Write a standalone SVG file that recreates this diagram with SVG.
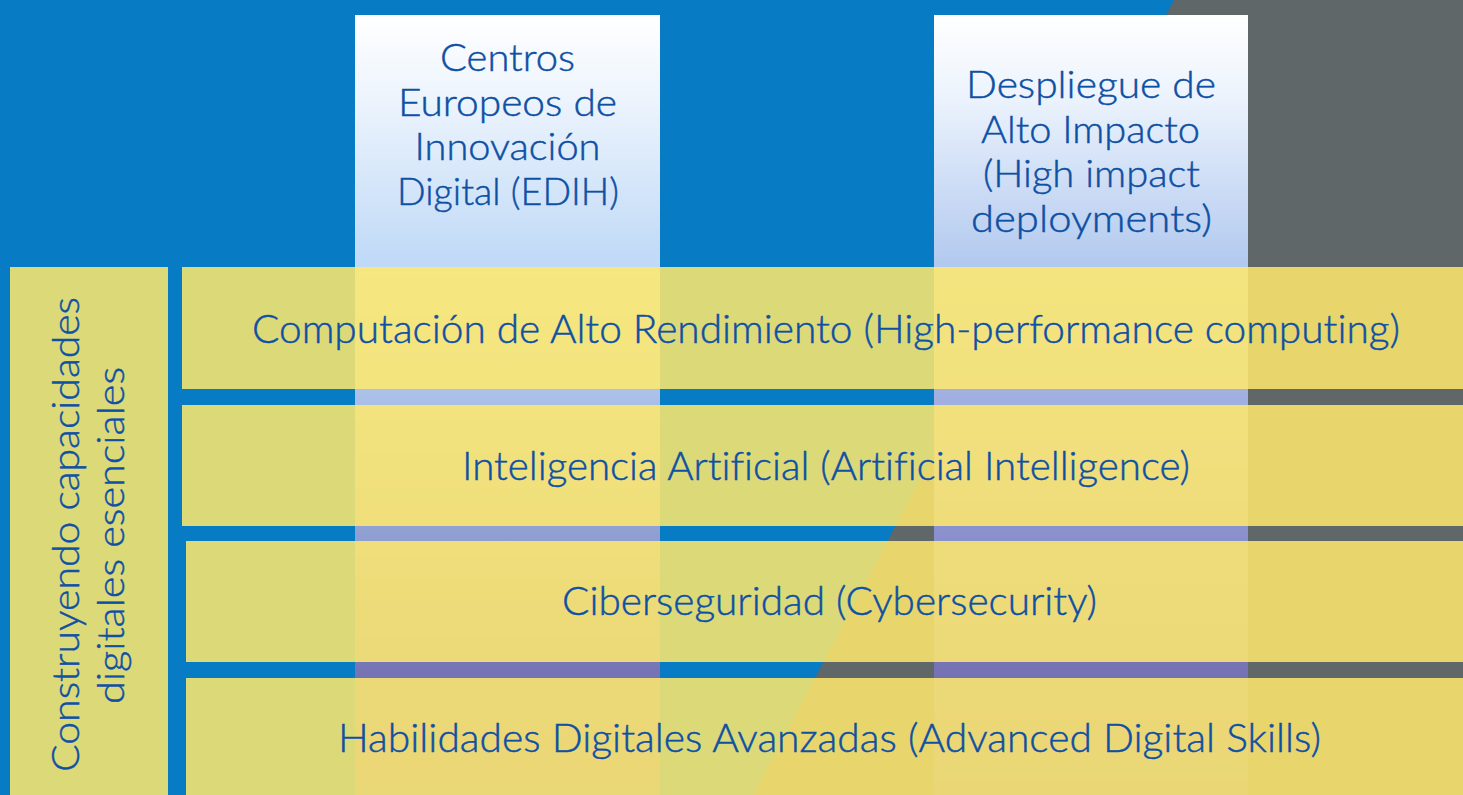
<svg xmlns="http://www.w3.org/2000/svg" width="1463" height="795" viewBox="0 0 1463 795">
<defs>
<linearGradient id="col1" gradientUnits="userSpaceOnUse" x1="0" y1="15" x2="0" y2="795">
<stop offset="0" stop-color="#FFFFFF"/>
<stop offset="0.1" stop-color="#EEF5FD"/>
<stop offset="0.32" stop-color="#BFD9F7"/>
<stop offset="0.49" stop-color="#AAC0E8"/>
<stop offset="0.664" stop-color="#90A0D2"/>
<stop offset="0.84" stop-color="#7674B5"/>
<stop offset="1" stop-color="#6E68AE"/>
</linearGradient>
<linearGradient id="col2" gradientUnits="userSpaceOnUse" x1="0" y1="15" x2="0" y2="795">
<stop offset="0" stop-color="#FFFFFF"/>
<stop offset="0.1" stop-color="#EDF4FD"/>
<stop offset="0.32" stop-color="#B2C9EF"/>
<stop offset="0.49" stop-color="#A0B0E0"/>
<stop offset="0.664" stop-color="#8A91CD"/>
<stop offset="0.84" stop-color="#7673B4"/>
<stop offset="1" stop-color="#6C66AC"/>
</linearGradient>
</defs>
<style>
.band{fill:#FFE96C;fill-opacity:0.86}
.t{font-family:Lato,"Open Sans","Liberation Sans",sans-serif;font-weight:300;font-variant-ligatures:none;fill:#0E50A4;stroke:#0E50A4;stroke-width:0.45px;text-anchor:middle}
.bt{font-size:39px}
.ct{font-size:37px}
.vt{font-size:38px}
</style>
<g id="background">
<rect x="0" y="0" width="1463" height="795" fill="#077BC4"/>
<polygon points="1174,0 1463,0 1463,795 753,795" fill="#5F6769"/>
</g>
<g id="col-edih">
<rect x="355" y="15" width="305" height="780" fill="url(#col1)"/>
<text class="t ct" x="507.5" y="71" textLength="135" lengthAdjust="spacingAndGlyphs">Centros</text>
<text class="t ct" x="507.5" y="115.5" textLength="219" lengthAdjust="spacingAndGlyphs">Europeos de</text>
<text class="t ct" x="507.5" y="160" textLength="186" lengthAdjust="spacingAndGlyphs">Innovación</text>
<text class="t ct" x="508" y="204.5" textLength="222" lengthAdjust="spacingAndGlyphs">Digital (EDIH)</text>
</g>
<g id="col-deploy">
<rect x="934" y="15" width="314" height="780" fill="url(#col2)"/>
<text class="t ct" x="1091" y="98" textLength="250" lengthAdjust="spacingAndGlyphs">Despliegue de</text>
<text class="t ct" x="1090.5" y="142.5" textLength="219" lengthAdjust="spacingAndGlyphs">Alto Impacto</text>
<text class="t ct" x="1091.5" y="187" textLength="217" lengthAdjust="spacingAndGlyphs">(High impact</text>
<text class="t ct" x="1091.5" y="231.5" textLength="241" lengthAdjust="spacingAndGlyphs">deployments)</text>
</g>
<g id="side-label">
<rect class="band" x="10" y="267" width="158" height="528"/>
<text class="t vt" transform="translate(79,534.5) rotate(-90)" x="0" y="0" textLength="475" lengthAdjust="spacingAndGlyphs">Construyendo capacidades</text>
<text class="t vt" transform="translate(124,535.5) rotate(-90)" x="0" y="0" textLength="337" lengthAdjust="spacingAndGlyphs">digitales esenciales</text>
</g>
<g id="band-hpc">
<rect class="band" x="182" y="267" width="1281" height="122"/>
<text class="t bt" x="826" y="343" textLength="1148" lengthAdjust="spacingAndGlyphs">Computación de Alto Rendimiento (High-performance computing)</text>
</g>
<g id="band-ai">
<rect class="band" x="182" y="405" width="1281" height="121"/>
<text class="t bt" x="826" y="480" textLength="728" lengthAdjust="spacingAndGlyphs">Inteligencia Artificial (Artificial Intelligence)</text>
</g>
<g id="band-cyber">
<rect class="band" x="186" y="541" width="1277" height="121"/>
<text class="t bt" x="829.5" y="615" textLength="535" lengthAdjust="spacingAndGlyphs">Ciberseguridad (Cybersecurity)</text>
</g>
<g id="band-skills">
<rect class="band" x="186" y="678" width="1277" height="117"/>
<text class="t bt" x="829.5" y="751.5" textLength="983" lengthAdjust="spacingAndGlyphs">Habilidades Digitales Avanzadas (Advanced Digital Skills)</text>
</g>
<g id="connectors"></g>
</svg>
